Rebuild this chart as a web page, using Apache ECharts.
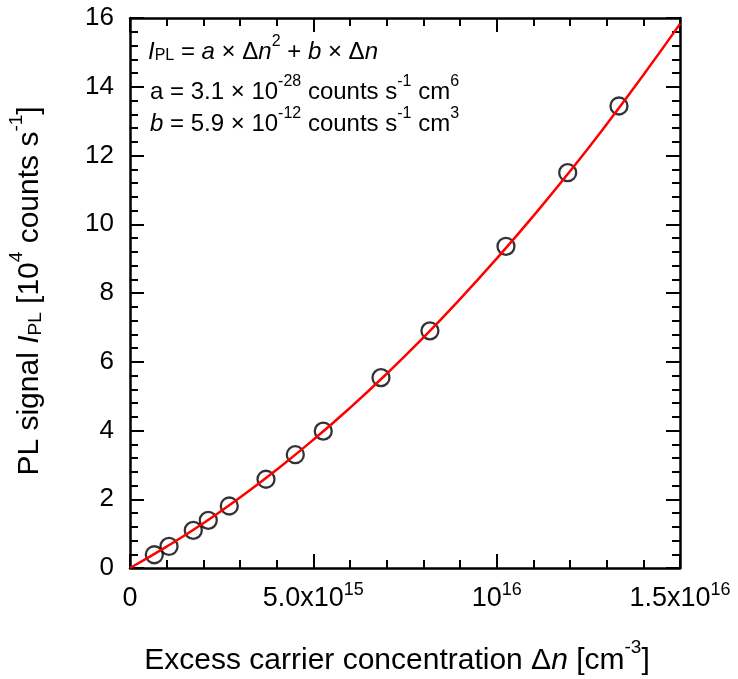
<!DOCTYPE html>
<html>
<head>
<meta charset="utf-8">
<script src="https://cdn.jsdelivr.net/npm/echarts@6/dist/echarts.min.js"></script>
<style>html,body{margin:0;padding:0;background:#fff}#c{width:738px;height:679px}</style>
</head>
<body>
<div id="c"></div>
<script>
// Measured data points (Δn in cm^-3, PL signal in 10^4 counts/s)
const dnData = [6.63e14, 1.064e15, 1.726e15, 2.135e15, 2.708e15, 3.709e15, 4.508e15, 5.271e15, 6.845e15, 8.18e15, 1.0254e16, 1.1937e16, 1.3336e16];
const plData = [0.385, 0.627, 1.094, 1.386, 1.803, 2.582, 3.296, 3.982, 5.537, 6.899, 9.358, 11.50, 13.44];
// Fit curve
const fitX = [0, 1e15, 2e15, 3e15, 4e15, 5e15, 6e15, 7e15, 8e15, 9e15, 1e16, 1.1e16, 1.2e16, 1.3e16, 1.4e16, 1.5e16];
const fitY = [0, 0.62, 1.30, 2.05, 2.86, 3.73, 4.66, 5.65, 6.70, 7.82, 9.00, 10.24, 11.54, 12.91, 14.34, 15.83];
// Tick labels: [mantissa text, superscript]
const xTickValues = [0, 5e15, 1e16, 1.5e16];
const xTickLabels = [['0', ''], ['5.0x10', '15'], ['10', '16'], ['1.5x10', '16']];

const FONT = 'Liberation Sans, Arial, sans-serif';
const chart = echarts.init(document.getElementById('c'), null, {renderer: 'canvas'});

const tickRich = {
  n: {fontSize: 27, lineHeight: 31, verticalAlign: 'bottom', fontFamily: FONT, color: '#000'},
  s: {fontSize: 18, lineHeight: 18, verticalAlign: 'top', fontFamily: FONT, color: '#000'}
};

function axisCommon(extra) {
  return Object.assign({
    type: 'value',
    axisLine: {show: true, onZero: false, lineStyle: {color: '#000', width: 2.5}},
    axisTick: {show: true, inside: true, length: 14, lineStyle: {color: '#000', width: 2}},
    minorTick: {show: true, splitNumber: 5, length: 8, lineStyle: {color: '#000', width: 2}},
    splitLine: {show: false},
    minorSplitLine: {show: false}
  }, extra);
}

const annRich = {
  t: {fontSize: 24, lineHeight: 30, verticalAlign: 'bottom', fontFamily: FONT, color: '#000'},
  i: {fontSize: 24, lineHeight: 30, verticalAlign: 'bottom', fontFamily: FONT, fontStyle: 'italic', color: '#000'},
  sub: {fontSize: 16, lineHeight: 15, verticalAlign: 'bottom', fontFamily: FONT, color: '#000'},
  sup: {fontSize: 16, lineHeight: 16, verticalAlign: 'top', fontFamily: FONT, color: '#000'}
};

const titleRich = {
  t: {fontSize: 30, lineHeight: 38, verticalAlign: 'bottom', fontFamily: FONT, color: '#000'},
  i: {fontSize: 30, lineHeight: 38, verticalAlign: 'bottom', fontFamily: FONT, fontStyle: 'italic', color: '#000'},
  sub: {fontSize: 19, lineHeight: 19, verticalAlign: 'bottom', fontFamily: FONT, color: '#000'},
  sup: {fontSize: 19, lineHeight: 19, verticalAlign: 'top', fontFamily: FONT, color: '#000'}
};

const option = {
  animation: false,
  backgroundColor: '#fff',
  grid: {left: 130, right: 58, top: 18, bottom: 111, containLabel: false},
  xAxis: [
    axisCommon({
      min: 0, max: 1.5e16, interval: 5e15, position: 'bottom',
      axisLabel: {
        show: true, margin: 13, rich: tickRich,
        formatter: function (v) {
          const k = xTickValues.findIndex(t => Math.abs(t - v) < 1e10);
          if (k < 0) return '';
          const p = xTickLabels[k];
          return '{n|' + p[0] + '}' + (p[1] ? '{s|' + p[1] + '}' : '');
        }
      }
    }),
    axisCommon({min: 0, max: 1.5e16, interval: 5e15, position: 'top', axisLabel: {show: false}})
  ],
  yAxis: [
    axisCommon({
      min: 0, max: 16, interval: 2, position: 'left',
      axisLabel: {show: true, margin: 16, fontSize: 26, fontFamily: FONT, color: '#000'}
    }),
    axisCommon({min: 0, max: 16, interval: 2, position: 'right', axisLabel: {show: false}})
  ],
  series: [
    {
      type: 'line', xAxisIndex: 0, yAxisIndex: 0,
      data: fitX.map((x, i) => [x, fitY[i]]),
      smooth: true, showSymbol: false, symbol: 'none',
      lineStyle: {color: '#ff0000', width: 2.5},
      z: 3
    },
    {
      type: 'scatter', xAxisIndex: 0, yAxisIndex: 0,
      data: dnData.map((x, i) => [x, plData[i]]),
      symbol: 'circle', symbolSize: 17,
      itemStyle: {color: 'rgba(0,0,0,0)', borderColor: '#000', borderWidth: 2.3},
      z: 2
    }
  ],
  graphic: [
    {
      type: 'text', left: 148, top: 34, z: 10,
      style: {
        text: '{i|I}{sub|PL}{t| = }{i|a}{t| × Δ}{i|n}{sup|2}{t| + }{i|b}{t| × Δ}{i|n}',
        rich: annRich
      }
    },
    {
      type: 'text', left: 150, top: 74, z: 10,
      style: {
        text: '{t|a = 3.1 × 10}{sup|-28}{t| counts s}{sup|-1}{t| cm}{sup|6}',
        rich: annRich
      }
    },
    {
      type: 'text', left: 150, top: 106, z: 10,
      style: {
        text: '{i|b}{t| = 5.9 × 10}{sup|-12}{t| counts s}{sup|-1}{t| cm}{sup|3}',
        rich: annRich
      }
    },
    {
      type: 'text', x: 397, y: 657, z: 10,
      style: {
        text: '{t|Excess carrier concentration Δ}{i|n}{t| [cm}{sup|-3}{t|]}',
        rich: titleRich, align: 'center', verticalAlign: 'middle'
      }
    },
    {
      type: 'text', x: 26, y: 291, rotation: Math.PI / 2, z: 10,
      style: {
        text: '{t|PL signal }{i|I}{sub|PL}{t| [10}{sup|4}{t| counts s}{sup|-1}{t|]}',
        rich: titleRich, align: 'center', verticalAlign: 'middle'
      }
    }
  ]
};
chart.setOption(option);
</script>
</body>
</html>
